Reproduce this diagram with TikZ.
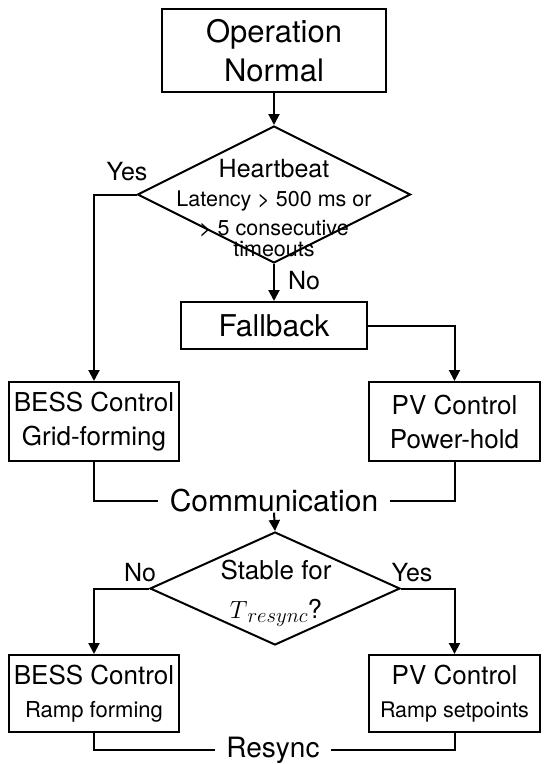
\documentclass[tikz,border=0pt]{standalone}
\usepackage{fontspec}
\setmainfont{TeX Gyre Heros}
\usetikzlibrary{arrows.meta,shapes.geometric}
\tikzset{
  box/.style={draw, line width=2pt, align=center, inner sep=0pt},
  dia/.style={draw, line width=2pt, shape=diamond, inner sep=0pt},
  conn/.style={line width=2pt},
  arr/.style={conn, -{Triangle[length=11pt,width=11pt]}},
  lbl/.style={inner sep=0pt, font=\fontsize{25}{29}\selectfont},
  plain/.style={inner sep=0pt, align=center}
}
\begin{document}
\begin{tikzpicture}[x=1pt,y=-1pt]
\useasboundingbox[fill=white] (0,0) rectangle (550,764);
% nodes
\node[box, minimum width=224pt, minimum height=83pt, font=\fontsize{31}{39}\selectfont] (op) at (274,50.5) {Operation\\Normal};
\node[dia, minimum width=273pt, minimum height=137pt] (d1) at (274,194.5) {};
\node[plain, font=\fontsize{21.5}{29}\selectfont] (d1t) at (274,208) {{\fontsize{25}{29}\selectfont Heartbeat}\\Latency > 500 ms or\\> 5 consecutive\\[-8pt]timeouts};
\node[box, minimum width=186pt, minimum height=47pt, font=\fontsize{30}{36}\selectfont] (fb) at (274,325.5) {Fallback};
\node[box, minimum width=170pt, minimum height=79pt, font=\fontsize{26}{34}\selectfont] (bess1) at (94,421.5) {BESS Control\\Grid-forming};
\node[box, minimum width=171pt, minimum height=79pt, font=\fontsize{26}{34}\selectfont] (pv1) at (454.5,421.5) {PV Control\\Power-hold};
\node[plain, inner xsep=12pt, font=\fontsize{30}{36}\selectfont] (comm) at (274,501) {Communication};
\node[dia, minimum width=250pt, minimum height=113pt] (d2) at (275,588.5) {};
\node[plain, font=\fontsize{26}{39}\selectfont] (d2t) at (276,593) {Stable for\\$T$\raisebox{-4pt}{\fontsize{21}{21}\selectfont$resync$}?};
\node[box, minimum width=170pt, minimum height=77pt, font=\fontsize{26}{33}\selectfont] (bess2) at (94,693.5) {BESS Control\\{\fontsize{22}{25}\selectfont Ramp forming}};
\node[box, minimum width=171pt, minimum height=77pt, font=\fontsize{26}{33}\selectfont] (pv2) at (454.5,693.5) {PV Control\\{\fontsize{21.5}{25}\selectfont Ramp setpoints}};
\node[plain, inner xsep=11pt, font=\fontsize{28}{34}\selectfont] (rs) at (273,750) {Resync};
% labels
\node[lbl] (y1) at (127,172) {Yes};
\node[lbl] (n1) at (304,281) {No};
\node[lbl] (n2) at (140,573) {No};
\node[lbl] (y2) at (412,573) {Yes};
% connectors
\draw[arr] (op.south) -- (d1.north);
\draw[arr] (d1.west) -| (bess1.north);
\draw[arr] (d1.south) -- (fb.north);
\draw[arr] (fb.east) -| (pv1.north);
\draw[conn] (bess1.south) |- (comm.west);
\draw[conn] (pv1.south) |- (comm.east);
\draw[arr] (comm.south) -- (d2.north);
\draw[arr] (d2.west) -| (bess2.north);
\draw[arr] (d2.east) -| (pv2.north);
\draw[conn] (bess2.south) |- (rs.west);
\draw[conn] (pv2.south) |- (rs.east);
\end{tikzpicture}
\end{document}
